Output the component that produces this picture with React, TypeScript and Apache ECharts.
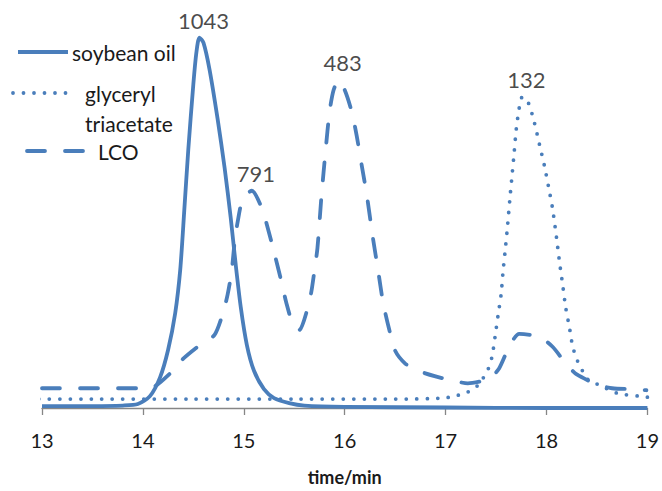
import React, { useEffect, useRef } from "react";
import * as echarts from "echarts";

// time (min) vs detector signal (arbitrary units)
const soybeanOil: [number, number][] = [
  [13.0, 2], [13.5, 2], [13.8, 2.5], [13.95, 4], [14.07, 12], [14.17, 31], [14.25, 59],
  [14.32, 96], [14.37, 140], [14.41, 200], [14.45, 262], [14.5, 328], [14.53, 360],
  [14.56, 375], [14.6, 370], [14.66, 343], [14.74, 293], [14.81, 243], [14.87, 193],
  [14.92, 145], [14.97, 102], [15.03, 64], [15.1, 38], [15.2, 19], [15.3, 10],
  [15.45, 5], [15.6, 2.5], [16.0, 1.2], [17.0, 0.5], [18.0, 0], [19.0, 0],
];

const glycerylTriacetate: [number, number][] = [
  [12.76, 9], [13.5, 9], [14.5, 9], [15.5, 9], [16.5, 9], [16.97, 10], [17.09, 12],
  [17.19, 15], [17.29, 20], [17.37, 30], [17.42, 39], [17.46, 52], [17.49, 72],
  [17.52, 94], [17.55, 115], [17.57, 139], [17.59, 159], [17.61, 180], [17.64, 215],
  [17.66, 237], [17.68, 259], [17.7, 282], [17.73, 304], [17.76, 315], [17.82, 309],
  [17.88, 289], [17.93, 267], [17.98, 245], [18.02, 224], [18.06, 202], [18.1, 172],
  [18.13, 147], [18.16, 125], [18.19, 102], [18.23, 80], [18.26, 62], [18.31, 47],
  [18.36, 37], [18.41, 29], [18.55, 22], [18.7, 15], [18.82, 13], [18.92, 12], [19.0, 11],
];

const lco: [number, number][] = [
  [13.0, 20], [13.5, 20], [14.0, 20], [14.12, 22], [14.34, 42], [14.4, 50], [14.58, 65],
  [14.71, 74], [14.79, 95], [14.84, 115], [14.88, 139], [14.91, 169], [14.94, 189],
  [14.99, 212], [15.08, 220], [15.18, 202], [15.23, 185], [15.29, 162], [15.38, 125],
  [15.42, 107], [15.48, 87], [15.55, 79], [15.63, 100], [15.67, 118], [15.7, 139],
  [15.73, 162], [15.77, 215], [15.81, 260], [15.85, 300], [15.89, 322], [15.94, 332],
  [16.0, 322], [16.07, 300], [16.12, 275], [16.17, 245], [16.22, 215], [16.28, 172],
  [16.33, 140], [16.38, 107], [16.44, 80], [16.5, 58], [16.6, 45], [16.72, 38],
  [16.9, 32], [17.06, 28], [17.22, 25], [17.35, 27], [17.44, 30], [17.53, 40],
  [17.63, 62], [17.73, 75], [17.93, 72], [18.06, 62], [18.2, 44], [18.3, 34],
  [18.5, 24], [18.65, 20], [18.89, 19], [18.99, 18],
];

const xTicks = [13, 14, 15, 16, 17, 18, 19];

const peakLabels = [
  { data: soybeanOil, time: 14.56, text: "1043" },
  { data: lco, time: 15.08, text: "791" },
  { data: lco, time: 15.94, text: "483" },
  { data: glycerylTriacetate, time: 17.76, text: "132" },
];

const legendItems = [
  { name: "soybean oil", lines: ["soybean oil"], dash: "solid" },
  { name: "glyceryl triacetate", lines: ["glyceryl", "triacetate"], dash: "dot" },
  { name: "LCO", lines: ["LCO"], dash: "dash" },
];

const COLOR = "#4a7ebb";
const FONT = "Lato, 'DejaVu Sans', sans-serif";
const DOT = [0, 10.5];
const DASH = [18, 20];
const LW = 3.8;

export default function App() {
  const ref = useRef<HTMLDivElement>(null);
  useEffect(() => {
    if (!ref.current) return;
    const chart = echarts.init(ref.current, undefined, { renderer: "svg" });

    const lineSeries = (name: string, data: [number, number][], type: any, cap: string) => ({
      name,
      type: "line",
      data,
      showSymbol: false,
      symbol: "none",
      smooth: 0.25,
      clip: false,
      lineStyle: { color: COLOR, width: LW, type, cap, join: "round" },
      itemStyle: { color: COLOR },
      z: 3,
    });

    const peaks = peakLabels.map((p) => {
      const pt = p.data.find((d) => d[0] === p.time)!;
      return { value: [pt[0], pt[1]], text: p.text };
    });

    // legend graphics
    const legendGraphics: any[] = [];
    const rows = [
      { y: 52, x1: 18, x2: 68, tx: 72 },
      { y: 93, x1: 13, x2: 72, tx: 85 },
      { y: 151, x1: 27, x2: 87, tx: 98 },
    ];
    legendItems.forEach((item, i) => {
      const r = rows[i];
      const dash = item.dash === "solid" ? null : item.dash === "dot" ? DOT : DASH;
      legendGraphics.push({
        type: "line",
        shape: { x1: r.x1, y1: r.y, x2: r.x2, y2: r.y },
        style: {
          stroke: COLOR,
          lineWidth: LW,
          lineDash: dash,
          lineCap: item.dash === "solid" ? "butt" : "round",
        },
        silent: true,
      });
      item.lines.forEach((t, j) => {
        legendGraphics.push({
          type: "text",
          x: r.tx,
          y: r.y + j * 30,
          style: {
            text: t,
            fill: "#1a1a1a",
            font: `21px ${FONT}`,
            textVerticalAlign: "middle",
            verticalAlign: "middle",
          },
          silent: true,
        });
      });
    });

    chart.setOption({
      animation: false,
      backgroundColor: "#ffffff",
      grid: { left: 42, right: 13, top: 13, bottom: 78, containLabel: false },
      xAxis: {
        type: "value",
        min: xTicks[0],
        max: xTicks[xTicks.length - 1],
        interval: 1,
        name: "time/min",
        nameLocation: "middle",
        nameGap: 60,
        nameTextStyle: { fontFamily: FONT, fontSize: 18, fontWeight: "bold", color: "#1a1a1a" },
        axisLine: { show: true, lineStyle: { color: "#868686", width: 1.3 } },
        axisTick: { show: true, length: 7, lineStyle: { color: "#868686", width: 1.3 } },
        axisLabel: { fontFamily: FONT, fontSize: 20, color: "#1a1a1a", margin: 22 },
        splitLine: { show: false },
      },
      yAxis: {
        type: "value",
        min: 0,
        max: 400,
        show: false,
        splitLine: { show: false },
      },
      series: [
        lineSeries("glyceryl triacetate", glycerylTriacetate, DOT, "round"),
        lineSeries("LCO", lco, DASH, "round"),
        lineSeries("soybean oil", soybeanOil, "solid", "butt"),
        {
          name: "peaks",
          type: "scatter",
          data: peaks,
          symbolSize: 1,
          itemStyle: { color: "rgba(0,0,0,0)" },
          label: {
            show: true,
            position: "top",
            distance: 6,
            offset: [4, 0],
            fontFamily: FONT,
            fontSize: 22,
            color: "#1a1a1a",
            formatter: (p: any) => p.data.text,
          },
          z: 5,
        },
      ],
      graphic: legendGraphics,
    });

    return () => chart.dispose();
  }, []);

  return (
    <div
      ref={ref}
      style={{ position: "absolute", left: 0, top: 0, width: 662, height: 491 }}
    />
  );
}
